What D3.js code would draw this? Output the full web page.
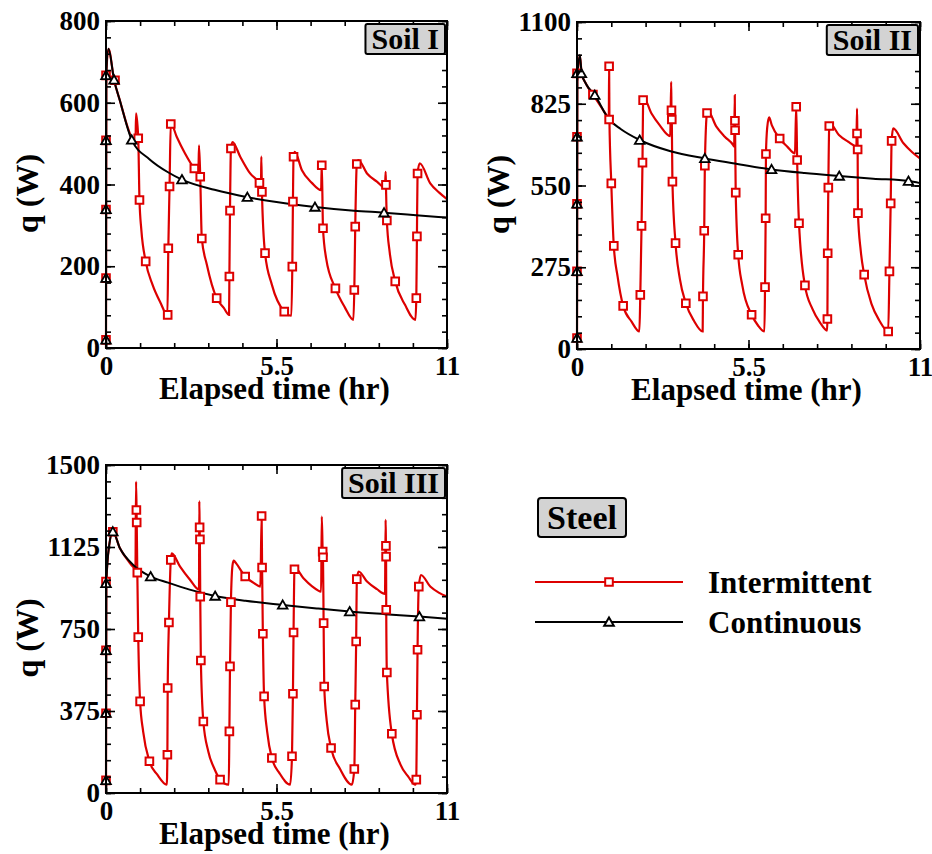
<!DOCTYPE html>
<html>
<head>
<meta charset="utf-8">
<script src="https://cdn.jsdelivr.net/npm/d3@7"></script>
<style>
  body { margin: 0; background: #fff; }
</style>
</head>
<body>
<svg width="932" height="854"></svg>
<script>
// ---- data (time in hr, q in W) ----
var xTicks = [0, 5.5, 11];
var soil1YTicks = [0, 200, 400, 600, 800];
var soil2YTicks = [0, 275, 550, 825, 1100];
var soil3YTicks = [0, 375, 750, 1125, 1500];
var panelNames = ["Soil I", "Soil II", "Soil III"];
var seriesNames = ["Intermittent", "Continuous"];
var materialName = "Steel";

// Soil I
var soil1Inter = [[0,0],[0.01,670],[0.08,732],[0.26,656],[0.45,605],[0.7,540],[0.95,498],[0.97,574],[1.04,513],[1.08,362],[1.14,289],[1.28,212],[1.5,155],[1.75,112],[1.98,81],[2.01,244],[2.05,395],[2.09,550],[2.28,517],[2.55,476],[2.85,439],[2.98,428],[3.0,496],[3.04,419],[3.09,268],[3.25,205],[3.57,122],[3.8,98],[3.97,81],[3.98,175],[4.0,336],[4.03,488],[4.08,504],[4.33,468],[4.65,427],[4.95,404],[5.0,398],[5.01,468],[5.03,382],[5.13,232],[5.35,155],[5.75,89],[5.98,79],[6.01,199],[6.03,358],[6.05,468],[6.09,480],[6.32,435],[6.64,404],[6.94,386],[6.96,452],[7.0,293],[7.1,220],[7.4,146],[7.7,100],[7.98,69],[8.01,142],[8.04,297],[8.09,450],[8.14,460],[8.42,427],[8.74,407],[9.0,392],[9.02,431],[9.03,399],[9.06,312],[9.15,235],[9.33,163],[9.65,105],[9.98,69],[10.01,122],[10.03,273],[10.05,427],[10.12,452],[10.46,403],[10.75,380],[11,364]];
var soil1InterMarks = [[0,20],[0,171],[0,339],[0,508],[0,667],[0.29,655],[1.04,513],[1.08,362],[1.28,212],[1.99,81],[2.01,244],[2.05,395],[2.09,548],[2.85,439],[3.04,419],[3.09,268],[3.57,122],[3.98,175],[4.0,336],[4.03,488],[4.95,404],[5.03,382],[5.13,232],[5.75,89],[6.01,199],[6.03,358],[6.05,468],[6.96,447],[7.0,293],[7.4,146],[8.01,142],[8.04,297],[8.09,450],[9.03,399],[9.06,312],[9.33,163],[10.01,122],[10.03,273],[10.05,427]];
var soil1Cont = [[0,0],[0.01,670],[0.08,732],[0.26,656],[0.45,605],[0.83,509],[1.4,462],[2.0,430],[2.45,412],[3.5,387],[4.56,369],[5.5,357],[6.74,345],[8.0,336],[8.97,331],[10,325],[11,319]];
var soil1ContMarks = [[0,20],[0,171],[0,339],[0,508],[0,667],[0.26,656],[0.83,509],[2.45,412],[4.56,369],[6.74,345],[8.97,331]];

// Soil II
var soil2Inter = [[0,0],[0.01,900],[0.09,988],[0.15,927],[0.3,890],[0.51,856],[0.8,810],[1.0,778],[1.02,775],[1.03,955],[1.04,772],[1.1,557],[1.18,347],[1.3,245],[1.48,145],[1.75,92],[2.0,59],[2.03,182],[2.07,414],[2.1,627],[2.12,837],[2.14,845],[2.39,792],[2.65,753],[2.99,716],[3.02,899],[3.03,803],[3.04,772],[3.06,563],[3.16,356],[3.3,235],[3.49,154],[3.75,95],[4.03,59],[4.04,177],[4.08,398],[4.1,617],[4.17,794],[4.2,800],[4.47,748],[4.74,714],[5.01,686],[5.04,681],[5.06,854],[5.065,768],[5.07,736],[5.09,526],[5.17,317],[5.3,215],[5.6,115],[5.8,80],[6.01,59],[6.03,208],[6.05,440],[6.06,656],[6.1,745],[6.16,779],[6.25,752],[6.5,708],[6.75,680],[6.99,658],[7.03,817],[7.06,636],[7.12,423],[7.31,214],[7.55,135],[7.8,88],[8.02,62],[8.03,101],[8.04,322],[8.06,543],[8.09,750],[8.12,757],[8.4,720],[8.7,697],[8.96,682],[8.98,809],[8.99,725],[9.0,671],[9.01,457],[9.1,330],[9.21,250],[9.45,150],[9.7,95],[9.98,59],[10.02,261],[10.06,490],[10.09,700],[10.14,742],[10.47,692],[10.75,662],[11,641]];
var soil2InterMarks = [[0,37],[0,261],[0,488],[0,714],[0,927],[0.51,856],[1.03,951],[1.03,772],[1.1,557],[1.18,347],[1.48,145],[2.03,182],[2.07,414],[2.1,627],[2.12,837],[3.03,803],[3.04,772],[3.06,563],[3.16,356],[3.49,154],[4.04,177],[4.08,398],[4.1,617],[4.17,794],[5.065,768],[5.07,736],[5.09,526],[5.17,317],[5.6,115],[6.03,208],[6.05,440],[6.06,656],[6.5,708],[7.03,815],[7.06,636],[7.12,423],[7.31,214],[8.03,101],[8.04,322],[8.06,543],[8.09,750],[8.98,725],[9.0,671],[9.01,457],[9.21,250],[9.98,59],[10.02,261],[10.06,490],[10.09,700]];
var soil2Cont = [[0,0],[0.01,900],[0.09,988],[0.15,927],[0.3,890],[0.57,854],[1.03,772],[1.4,740],[2.01,703],[3.0,665],[4.1,641],[5.0,625],[6.24,604],[7.3,592],[8.41,582],[9.5,573],[10.63,565],[11,558]];
var soil2ContMarks = [[0,37],[0,261],[0,488],[0,714],[0,927],[0.14,927],[0.57,854],[2.01,703],[4.1,641],[6.24,604],[8.41,582],[10.63,565]];

// Soil III
var soil3Inter = [[0,0],[0.01,960],[0.1,1130],[0.22,1195],[0.45,1119],[0.7,1065],[0.95,1028],[0.97,1424],[0.99,1250],[1.01,1008],[1.04,713],[1.1,419],[1.2,280],[1.4,145],[1.65,85],[1.96,38],[1.98,175],[1.99,480],[2.03,780],[2.09,1066],[2.12,1096],[2.39,1035],[2.71,975],[3.0,930],[3.01,1335],[3.02,1215],[3.03,1120],[3.04,898],[3.06,606],[3.14,327],[3.3,190],[3.5,110],[3.68,61],[3.96,38],[3.98,282],[4.0,579],[4.03,873],[4.08,1040],[4.12,1063],[4.2,1050],[4.49,990],[4.75,962],[4.98,944],[5.02,1270],[5.035,1031],[5.06,728],[5.1,442],[5.2,280],[5.35,160],[5.6,90],[5.94,38],[6.0,168],[6.03,454],[6.05,734],[6.08,1023],[6.1,1028],[6.37,982],[6.65,945],[6.94,921],[6.96,1264],[6.99,1104],[7.0,1078],[7.02,777],[7.04,487],[7.12,330],[7.26,206],[7.55,110],[7.93,38],[8.01,110],[8.04,404],[8.07,693],[8.09,978],[8.15,1013],[8.42,967],[8.74,932],[9.0,911],[9.02,1249],[9.03,1130],[9.035,1081],[9.04,838],[9.06,551],[9.22,271],[9.5,130],[9.75,75],[9.98,38],[10.01,61],[10.03,358],[10.05,655],[10.09,944],[10.16,997],[10.46,944],[10.75,915],[11,898]];
var soil3InterMarks = [[0,58],[0,365],[0,652],[0,967],[0.22,1195],[0.98,1294],[0.99,1237],[1.01,1008],[1.04,713],[1.1,419],[1.4,145],[1.98,175],[1.99,480],[2.03,780],[2.09,1066],[3.02,1215],[3.03,1160],[3.04,898],[3.06,606],[3.14,327],[3.68,61],[3.98,282],[4.0,579],[4.03,873],[4.49,990],[5.02,1267],[5.035,1031],[5.06,728],[5.1,442],[5.35,160],[6.0,168],[6.03,454],[6.05,734],[6.08,1023],[6.99,1104],[7.0,1078],[7.02,777],[7.04,487],[7.26,206],[8.01,110],[8.04,404],[8.07,693],[8.09,978],[9.03,1130],[9.035,1081],[9.04,838],[9.06,551],[9.22,271],[10.01,61],[10.03,358],[10.05,655],[10.09,944]];
var soil3Cont = [[0,0],[0.01,960],[0.1,1130],[0.22,1195],[0.45,1119],[0.88,1043],[1.44,990],[2.0,962],[2.7,930],[3.52,901],[4.5,879],[5.7,860],[6.8,844],[7.86,830],[9.0,818],[10.11,807],[11,797]];
var soil3ContMarks = [[0,58],[0,365],[0,652],[0,959],[0.22,1195],[1.44,990],[3.52,901],[5.7,860],[7.86,830],[10.11,807]];

// ---- layout ----
var svg = d3.select("svg")
    .attr("font-family", "Liberation Serif")
    .attr("font-weight", "bold");
var red = "#dd0000";
var font = "Liberation Serif";

var panels = [
  {name: panelNames[0], yTicks: soil1YTicks, inter: soil1Inter, interMarks: soil1InterMarks, cont: soil1Cont, contMarks: soil1ContMarks,
   left: 106, top: 21, width: 341, height: 327},
  {name: panelNames[1], yTicks: soil2YTicks, inter: soil2Inter, interMarks: soil2InterMarks, cont: soil2Cont, contMarks: soil2ContMarks,
   left: 577, top: 22, width: 343, height: 327},
  {name: panelNames[2], yTicks: soil3YTicks, inter: soil3Inter, interMarks: soil3InterMarks, cont: soil3Cont, contMarks: soil3ContMarks,
   left: 106, top: 465, width: 341, height: 328}
];

var square = d3.symbol().type(d3.symbolSquare).size(58);
var triangle = d3.symbol().type(d3.symbolTriangle).size(40);

panels.forEach(drawPanel);

function styleAxis(a) {
  a.select(".domain").remove();
  a.selectAll("line").attr("stroke", "#000").attr("stroke-width", 1.6);
  a.attr("font-family", font).attr("font-size", 27).attr("fill", "#000");
  a.selectAll("text").attr("fill", "#000");
}

function drawPanel(p) {
  var g = svg.append("g").attr("transform", "translate(" + p.left + "," + p.top + ")");
  var yMax = p.yTicks[p.yTicks.length - 1];
  var x = d3.scaleLinear().domain([0, 11]).range([0, p.width]);
  var y = d3.scaleLinear().domain([0, yMax]).range([p.height, 0]);
  var xMinor = d3.range(0, 11.001, 1.1);
  var yMinor = d3.range(0, yMax + 0.001, p.yTicks[1] / 5);

  var line = d3.line()
      .x(function(d) { return x(d[0]); })
      .y(function(d) { return y(d[1]); })
      .curve(d3.curveMonotoneX);

  g.append("path").datum(p.inter)
      .attr("d", line).attr("fill", "none").attr("stroke", red).attr("stroke-width", 2.2);
  g.append("path").datum(p.cont)
      .attr("d", line).attr("fill", "none").attr("stroke", "#000").attr("stroke-width", 2);

  g.selectAll(".sq").data(p.interMarks).enter().append("path")
      .attr("class", "sq")
      .attr("d", square)
      .attr("transform", function(d) { return "translate(" + x(d[0]) + "," + y(d[1]) + ")"; })
      .attr("fill", "#fff").attr("stroke", red).attr("stroke-width", 2);
  g.selectAll(".tri").data(p.contMarks).enter().append("path")
      .attr("class", "tri")
      .attr("d", triangle)
      .attr("transform", function(d) { return "translate(" + x(d[0]) + "," + (y(d[1]) + 1) + ")"; })
      .attr("fill", "#fff").attr("stroke", "#000").attr("stroke-width", 1.8);

  // ticks on all four sides, pointing inward
  g.append("g").attr("transform", "translate(0," + p.height + ")")
      .call(d3.axisBottom(x).tickValues(xMinor).tickSize(-5).tickFormat("")).call(styleAxis);
  g.append("g").attr("transform", "translate(0," + p.height + ")")
      .call(d3.axisBottom(x).tickValues(xTicks).tickSize(-9).tickPadding(8).tickFormat(function(d) { return d; }))
      .call(styleAxis);
  g.append("g").call(d3.axisTop(x).tickValues(xMinor).tickSize(-5).tickFormat("")).call(styleAxis);
  g.append("g").call(d3.axisTop(x).tickValues(xTicks).tickSize(-9).tickFormat("")).call(styleAxis);

  g.append("g").call(d3.axisLeft(y).tickValues(yMinor).tickSize(-5).tickFormat("")).call(styleAxis);
  g.append("g")
      .call(d3.axisLeft(y).tickValues(p.yTicks).tickSize(-9).tickPadding(6).tickFormat(function(d) { return d; }))
      .call(styleAxis);
  g.append("g").attr("transform", "translate(" + p.width + ",0)")
      .call(d3.axisRight(y).tickValues(yMinor).tickSize(-5).tickFormat("")).call(styleAxis);
  g.append("g").attr("transform", "translate(" + p.width + ",0)")
      .call(d3.axisRight(y).tickValues(p.yTicks).tickSize(-9).tickFormat("")).call(styleAxis);

  g.append("rect")
      .attr("width", p.width).attr("height", p.height)
      .attr("fill", "none").attr("stroke", "#000").attr("stroke-width", 2);

  // axis titles
  g.append("text")
      .attr("x", p.width / 2 - 2).attr("y", p.height + 51)
      .attr("text-anchor", "middle").attr("font-size", 31)
      .text("Elapsed time (hr)");
  g.append("text")
      .attr("transform", "translate(-68," + (p.height / 2 + 9) + ") rotate(-90)")
      .attr("text-anchor", "middle").attr("font-size", 32)
      .text("q (W)");

  // soil label box
  var lab = g.append("g");
  var labRect = lab.append("rect");
  var labText = lab.append("text")
      .attr("x", p.width - 8).attr("y", 28)
      .attr("text-anchor", "end").attr("font-size", 30)
      .text(p.name);
  var tw = labText.node().getComputedTextLength();
  labRect.attr("x", p.width - 2 - tw - 12).attr("y", 3)
      .attr("width", tw + 12).attr("height", 30).attr("rx", 2)
      .attr("fill", "#d3d3d3").attr("stroke", "#000").attr("stroke-width", 2);
}

// ---- legend ----
var leg = svg.append("g");
leg.append("rect")
    .attr("x", 538).attr("y", 498).attr("width", 88).attr("height", 39).attr("rx", 3)
    .attr("fill", "#d3d3d3").attr("stroke", "#000").attr("stroke-width", 2);
leg.append("text")
    .attr("x", 582).attr("y", 529).attr("text-anchor", "middle").attr("font-size", 34)
    .text(materialName);

var legRows = [
  {name: seriesNames[0], color: red, symbol: square, y: 582},
  {name: seriesNames[1], color: "#000", symbol: triangle, y: 622}
];
legRows.forEach(function(r) {
  leg.append("line")
      .attr("x1", 535).attr("x2", 683).attr("y1", r.y).attr("y2", r.y)
      .attr("stroke", r.color).attr("stroke-width", 2.2);
  leg.append("path")
      .attr("d", r.symbol)
      .attr("transform", "translate(609," + (r.y + (r.symbol === triangle ? 1 : 0)) + ")")
      .attr("fill", "#fff").attr("stroke", r.color).attr("stroke-width", 2);
  leg.append("text")
      .attr("x", 708).attr("y", r.y + 11).attr("font-size", 31)
      .text(r.name);
});
</script>
</body>
</html>
